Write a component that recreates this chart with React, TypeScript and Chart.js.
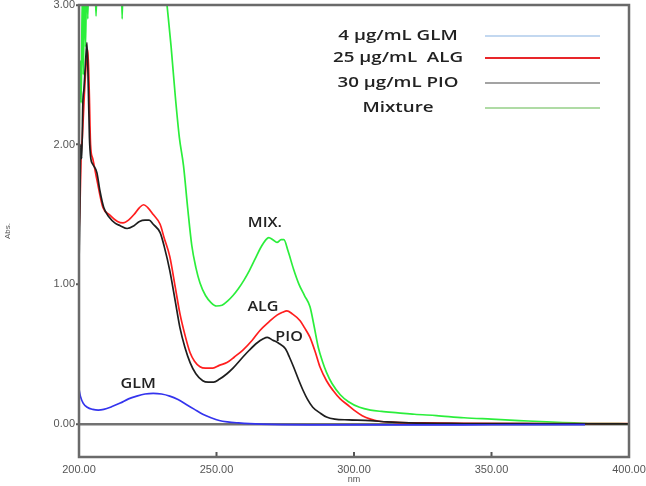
import React, { useEffect, useRef } from "react";
import { Chart, registerables } from "chart.js";

Chart.register(...registerables);

// ---- data (wavelength nm / absorbance) ----
const glmNm = [200, 200.5, 201.5, 203, 205, 207, 209, 212, 215, 218, 221, 224, 227, 230, 233, 236, 239, 242, 245, 248, 251, 254, 258, 262, 270, 290, 320, 350, 384];
const glmAbs = [0.25, 0.2, 0.15, 0.12, 0.105, 0.1, 0.105, 0.125, 0.15, 0.18, 0.2, 0.215, 0.22, 0.215, 0.2, 0.175, 0.14, 0.105, 0.07, 0.045, 0.025, 0.015, 0.008, 0.003, -0.003, -0.006, -0.006, -0.005, -0.004];

const algNm = [200, 200.4, 200.8, 201.2, 201.8, 202.5, 203.2, 203.7, 204.2, 205, 206.5, 208.7, 211, 214, 216, 218, 220, 222, 223.5, 225, 227, 229.5, 231, 233, 235, 236.7, 238.5, 240.4, 242, 244, 246, 248.7, 251, 253.8, 256.5, 259.6, 263, 265.8, 269, 272, 274, 275.6, 277.5, 280.4, 282, 284, 286, 287.6, 290, 292.4, 295, 297.5, 300, 303, 306, 309, 315, 325, 340, 370, 400];
const algAbs = [1.38, 1.6, 1.95, 2.05, 2.3, 2.55, 2.68, 2.4, 2.0, 1.9, 1.75, 1.55, 1.5, 1.45, 1.44, 1.46, 1.5, 1.55, 1.57, 1.55, 1.5, 1.43, 1.33, 1.2, 0.98, 0.79, 0.64, 0.51, 0.45, 0.41, 0.4, 0.4, 0.42, 0.44, 0.48, 0.53, 0.6, 0.67, 0.73, 0.78, 0.8, 0.81, 0.79, 0.74, 0.69, 0.62, 0.51, 0.41, 0.31, 0.24, 0.18, 0.14, 0.1, 0.06, 0.035, 0.02, 0.012, 0.008, 0.005, 0.003, 0.004];

const pioNm = [200, 200.3, 200.6, 201, 201.4, 201.8, 202.4, 202.9, 203.4, 203.8, 204.3, 205, 206.5, 207.6, 209, 211, 213, 215, 217.5, 220, 222, 224, 225.5, 227, 229.5, 231, 233, 235, 236.7, 238.5, 240.4, 242.5, 245, 247, 249, 251, 253.8, 256, 259.6, 262, 264.7, 267, 268.5, 270.5, 272.5, 275, 276.5, 278, 280, 281.5, 283, 285, 287.6, 290, 293, 298, 306, 312, 320, 340, 370, 400];
const pioAbs = [1.15, 1.5, 2.0, 1.9, 2.3, 2.4, 2.6, 2.73, 2.4, 2.05, 1.9, 1.86, 1.8, 1.67, 1.55, 1.48, 1.44, 1.42, 1.4, 1.42, 1.45, 1.46, 1.46, 1.43, 1.37, 1.27, 1.1, 0.88, 0.69, 0.55, 0.44, 0.36, 0.31, 0.3, 0.3, 0.32, 0.36, 0.4, 0.48, 0.53, 0.58, 0.61, 0.62, 0.6, 0.58, 0.54, 0.48, 0.41, 0.31, 0.24, 0.18, 0.12, 0.08, 0.05, 0.035, 0.03, 0.025, 0.015, 0.008, 0.004, 0.002, 0.001];

const mixNm = [200, 200.4, 200.8, 201.2, 201.6, 202, 202.4, 202.8, 203.2, 203.6, 204, 205, 205.8, 206.2, 206.6, 208, 215, 215.4, 215.7, 216, 220, 228, 231, 232, 233.5, 235, 236.5, 238, 239.5, 241, 242.5, 244, 246, 248, 250, 252, 254, 256, 258, 260, 262, 264, 266, 268, 269, 270.5, 272, 273.5, 274.5, 276, 278, 280, 282, 284, 285.5, 287, 288.5, 290, 292, 295, 298, 302, 306, 310, 316, 322, 330, 340, 350, 360, 370, 380, 385, 390, 400];
const mixAbs = [1.95, 2.6, 2.3, 3.1, 2.5, 3.2, 2.7, 3.3, 2.9, 3.3, 3.2, 3.3, 3.2, 2.92, 3.2, 3.4, 3.4, 3.2, 2.9, 3.2, 3.4, 3.4, 3.2, 3.0, 2.7, 2.35, 2.05, 1.85, 1.55, 1.28, 1.12, 1.01, 0.92, 0.87, 0.845, 0.85, 0.88, 0.92, 0.97, 1.03, 1.1, 1.18, 1.26, 1.32, 1.335, 1.32, 1.3, 1.32, 1.32, 1.24, 1.11, 1.0, 0.92, 0.84, 0.7, 0.55, 0.45, 0.37, 0.29, 0.21, 0.16, 0.12, 0.1, 0.09, 0.08, 0.07, 0.06, 0.045, 0.035, 0.025, 0.015, 0.008, 0.004, 0.003, 0.002];

const xTicks = [200, 250, 300, 350, 400];
const yTicks = [0, 1, 2, 3];

const legendLabels = ["4 µg/mL GLM", "25 µg/mL  ALG", "30 µg/mL PIO", "Mixture"];
const legendColors = ["#c3d8f0", "#e8262a", "#a3a3a3", "#afdba5"];

const curveLabels = ["GLM", "ALG", "PIO", "MIX."];
const curveLabelNm = [221.5, 266.9, 276.4, 267.6];
const curveLabelAbs = [0.29, 0.84, 0.62, 1.44];

const toPoints = (xs: number[], ys: number[]) => xs.map((x, i) => ({ x, y: ys[i] }));

function stretchedText(ctx: CanvasRenderingContext2D, text: string, x: number, y: number, sx: number, align: CanvasTextAlign) {
  ctx.save();
  ctx.translate(x, y);
  ctx.scale(sx, 1);
  ctx.textAlign = align;
  ctx.textBaseline = "middle";
  ctx.fillText(text, 0, 0);
  ctx.restore();
}

const decorPlugin = {
  id: "decor",
  afterDatasetsDraw(chart: any) {
    const { ctx, chartArea, scales } = chart;
    const xs = scales.x;
    const ys = scales.y;
    ctx.save();
    // inner tick marks on bottom axis
    ctx.strokeStyle = "#555";
    ctx.lineWidth = 2;
    xTicks.slice(1, -1).forEach((v) => {
      const px = xs.getPixelForValue(v);
      ctx.beginPath();
      ctx.moveTo(px, chartArea.bottom);
      ctx.lineTo(px, chartArea.bottom - 5);
      ctx.stroke();
    });
    // frame
    ctx.strokeStyle = "#6a6a6a";
    ctx.lineWidth = 2.5;
    ctx.strokeRect(chartArea.left, chartArea.top, chartArea.right - chartArea.left, chartArea.bottom - chartArea.top);

    // curve labels
    ctx.fillStyle = "#222";
    ctx.font = '600 14px "Open Sans"';
    curveLabels.forEach((t, i) => {
      stretchedText(ctx, t, xs.getPixelForValue(curveLabelNm[i]), ys.getPixelForValue(curveLabelAbs[i]), 1.15, "center");
    });

    // legend
    const rowsY = [36, 58, 83, 108];
    ctx.font = '600 15px "Open Sans"';
    legendLabels.forEach((t, i) => {
      ctx.fillStyle = "#222";
      stretchedText(ctx, t, 398, rowsY[i], 1.25, "center");
      ctx.strokeStyle = legendColors[i];
      ctx.lineWidth = 2;
      ctx.beginPath();
      ctx.moveTo(485, rowsY[i]);
      ctx.lineTo(600, rowsY[i]);
      ctx.stroke();
    });
    ctx.restore();
  },
};

export default function App() {
  const ref = useRef<HTMLCanvasElement | null>(null);
  useEffect(() => {
    if (!ref.current) return;
    const common = { pointRadius: 0, borderWidth: 1.7, cubicInterpolationMode: "monotone" as const, fill: false };
    const chart = new Chart(ref.current, {
      type: "line",
      data: {
        datasets: [
          { label: legendLabels[0], data: toPoints(glmNm, glmAbs), borderColor: "#3434ee", order: 0, ...common },
          { label: legendLabels[2], data: toPoints(pioNm, pioAbs), borderColor: "#1e1e1e", order: 1, ...common },
          { label: legendLabels[1], data: toPoints(algNm, algAbs), borderColor: "#ff1e1e", order: 2, ...common },
          { label: legendLabels[3], data: toPoints(mixNm, mixAbs), borderColor: "#2bee3b", order: 3, ...common },
        ],
      },
      options: {
        responsive: false,
        animation: false,
        devicePixelRatio: 1,
        layout: { padding: { top: 5, right: 17, left: 0, bottom: 0 } },
        plugins: { legend: { display: false }, tooltip: { enabled: false } },
        scales: {
          x: {
            type: "linear",
            min: 200,
            max: 400,
            afterBuildTicks: (s: any) => { s.ticks = xTicks.map((v) => ({ value: v })); },
            afterFit: (s: any) => { s.height = 29; s.paddingLeft = 0; s.paddingRight = 0; },
            grid: { drawOnChartArea: false, drawTicks: false },
            border: { display: false },
            ticks: {
              padding: 6,
              color: "#555",
              font: { family: '"Liberation Sans"', size: 11 },
              maxRotation: 0,
              autoSkip: false,
              callback: (v: any) => Number(v).toFixed(2),
            },
            title: { display: true, text: "nm", color: "#555", font: { family: '"Liberation Sans"', size: 9 }, padding: { top: 0, bottom: 1 } },
          },
          y: {
            min: -0.236,
            max: 3.0,
            afterBuildTicks: (s: any) => { s.ticks = yTicks.map((v) => ({ value: v })); },
            afterFit: (s: any) => { s.width = 79; s.paddingTop = 0; s.paddingBottom = 0; },
            grid: {
              color: (c: any) => (c.tick && c.tick.value === 0 ? "#727272" : "rgba(0,0,0,0)"),
              lineWidth: 2.5,
              tickLength: 3,
              tickColor: "#555",
              tickWidth: 2,
            },
            border: { display: false },
            ticks: {
              padding: 1,
              color: "#555",
              font: { family: '"Liberation Sans"', size: 11 },
              callback: (v: any) => Number(v).toFixed(2),
            },
            title: { display: true, text: "Abs.", color: "#555", font: { family: '"Liberation Sans"', size: 8 }, padding: { top: 3, bottom: 0 } },
          },
        },
      },
      plugins: [decorPlugin],
    } as any);
    return () => chart.destroy();
  }, []);
  return (
    <div style={{ position: "fixed", left: 0, top: 0, width: 646, height: 486, background: "#fff" }}>
      <canvas ref={ref} width={646} height={486} style={{ display: "block" }} />
    </div>
  );
}
